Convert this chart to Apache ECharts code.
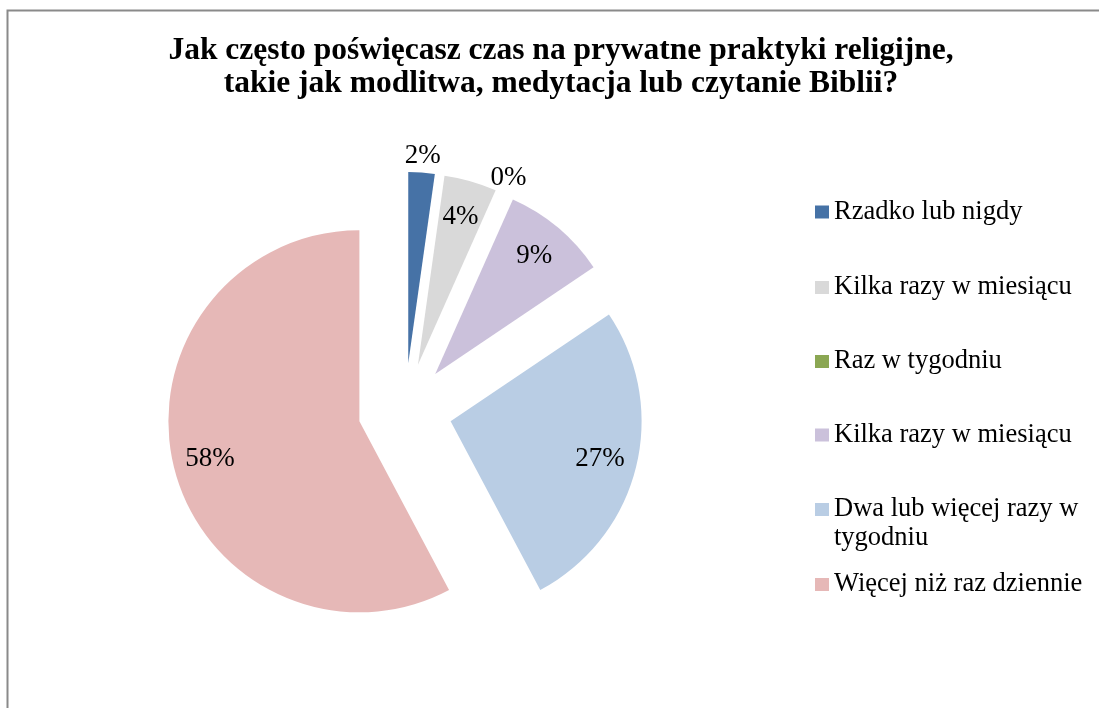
<!DOCTYPE html>
<html>
<head>
<meta charset="utf-8">
<script src="https://cdn.jsdelivr.net/npm/echarts@6/dist/echarts.min.js"></script>
<style>
html,body{margin:0;padding:0;background:#fff;}
#chart{width:1099px;height:708px;}
</style>
</head>
<body>
<div id="chart"></div>
<script>
// Data (respondent counts per answer)
const categories = ['Rzadko lub nigdy', 'Kilka razy w miesiącu', 'Raz w tygodniu', 'Kilka razy w miesiącu ', 'Dwa lub więcej razy w tygodniu', 'Więcej niż raz dziennie'];
const legendLabels = ['Rzadko lub nigdy', 'Kilka razy w miesiącu', 'Raz w tygodniu', 'Kilka razy w miesiącu', ' \nDwa lub więcej razy w\ntygodniu', 'Więcej niż raz dziennie'];
const values = [1, 2, 0, 4, 12, 26];
const colors = ['#4672A6', '#D9D9D9', '#8BA753', '#CBC1DB', '#B9CDE4', '#E6B8B7'];
const titleLines = ['Jak często poświęcasz czas na prywatne praktyki religijne,', 'takie jak modlitwa, medytacja lub czytanie Biblii?'];

const FONT = '"Liberation Serif", "Times New Roman", serif';
const CX = 405, CY = 410, R = 191, OFFSET = 47;
const insideIdx = [1, 3, 4, 5];
const outsideIdx = [0, 2];

function mkData(labelFilter, transparent) {
  return categories.map((n, i) => ({
    name: n,
    value: values[i],
    selected: true,
    itemStyle: { color: transparent ? 'rgba(0,0,0,0)' : colors[i] },
    label: { show: labelFilter ? labelFilter.includes(i) : false }
  }));
}
const pctFmt = p => Math.round(p.percent) + '%';

const chart = echarts.init(document.getElementById('chart'), null, { renderer: 'canvas' });

const legendTops = [192.5, 268, 342, 415.5, 461, 565];
const legends = categories.map((n, i) => ({
  data: [{ name: n, itemStyle: { color: colors[i] } }],
  orient: 'vertical',
  left: 810,
  top: legendTops[i],
  icon: 'rect',
  itemWidth: 14,
  itemHeight: 13,
  itemGap: 0,
  selectedMode: false,
  formatter: () => legendLabels[i],
  textStyle: { fontFamily: FONT, fontSize: 26.5, color: '#000', lineHeight: 29 }
}));

const labelStyle = { show: true, position: 'inside', formatter: pctFmt, fontFamily: FONT, fontSize: 27, color: '#000', offset: [0, 3] };

const option = {
  backgroundColor: '#fff',
  animation: false,
  title: {
    text: titleLines.join('\n'),
    left: 556,
    textAlign: 'center',
    top: 29,
    textStyle: { fontFamily: FONT, fontSize: 31.5, fontWeight: 'bold', color: '#000', lineHeight: 33 }
  },
  legend: legends,
  graphic: [{
    type: 'rect',
    shape: { x: 7.5, y: 10.5, width: 1200, height: 800 },
    style: { fill: 'none', stroke: '#8a8a8a', lineWidth: 2 },
    silent: true
  }],
  series: [
    {
      type: 'pie',
      center: [CX, CY],
      radius: [0, R],
      startAngle: 90,
      clockwise: true,
      selectedMode: 'multiple',
      selectedOffset: OFFSET,
      avoidLabelOverlap: false,
      emphasis: { disabled: true },
      label: { show: false },
      labelLine: { show: false },
      itemStyle: { borderWidth: 0 },
      data: mkData(null, false)
    },
    {
      type: 'pie',
      silent: true,
      center: [CX, CY],
      radius: [0.58 * R, R],
      startAngle: 90,
      clockwise: true,
      selectedMode: 'multiple',
      selectedOffset: OFFSET,
      avoidLabelOverlap: false,
      emphasis: { disabled: true },
      itemStyle: { borderWidth: 0 },
      label: labelStyle,
      labelLine: { show: false },
      data: mkData(insideIdx, true)
    },
    {
      type: 'pie',
      silent: true,
      center: [CX, CY],
      radius: [R, 1.14 * R],
      startAngle: 90,
      clockwise: true,
      selectedMode: 'multiple',
      selectedOffset: OFFSET,
      avoidLabelOverlap: false,
      emphasis: { disabled: true },
      itemStyle: { borderWidth: 0 },
      label: Object.assign({}, labelStyle, { offset: [-4, 1] }),
      labelLine: { show: false },
      data: mkData(outsideIdx, true)
    }
  ]
};
chart.setOption(option);
</script>
</body>
</html>
